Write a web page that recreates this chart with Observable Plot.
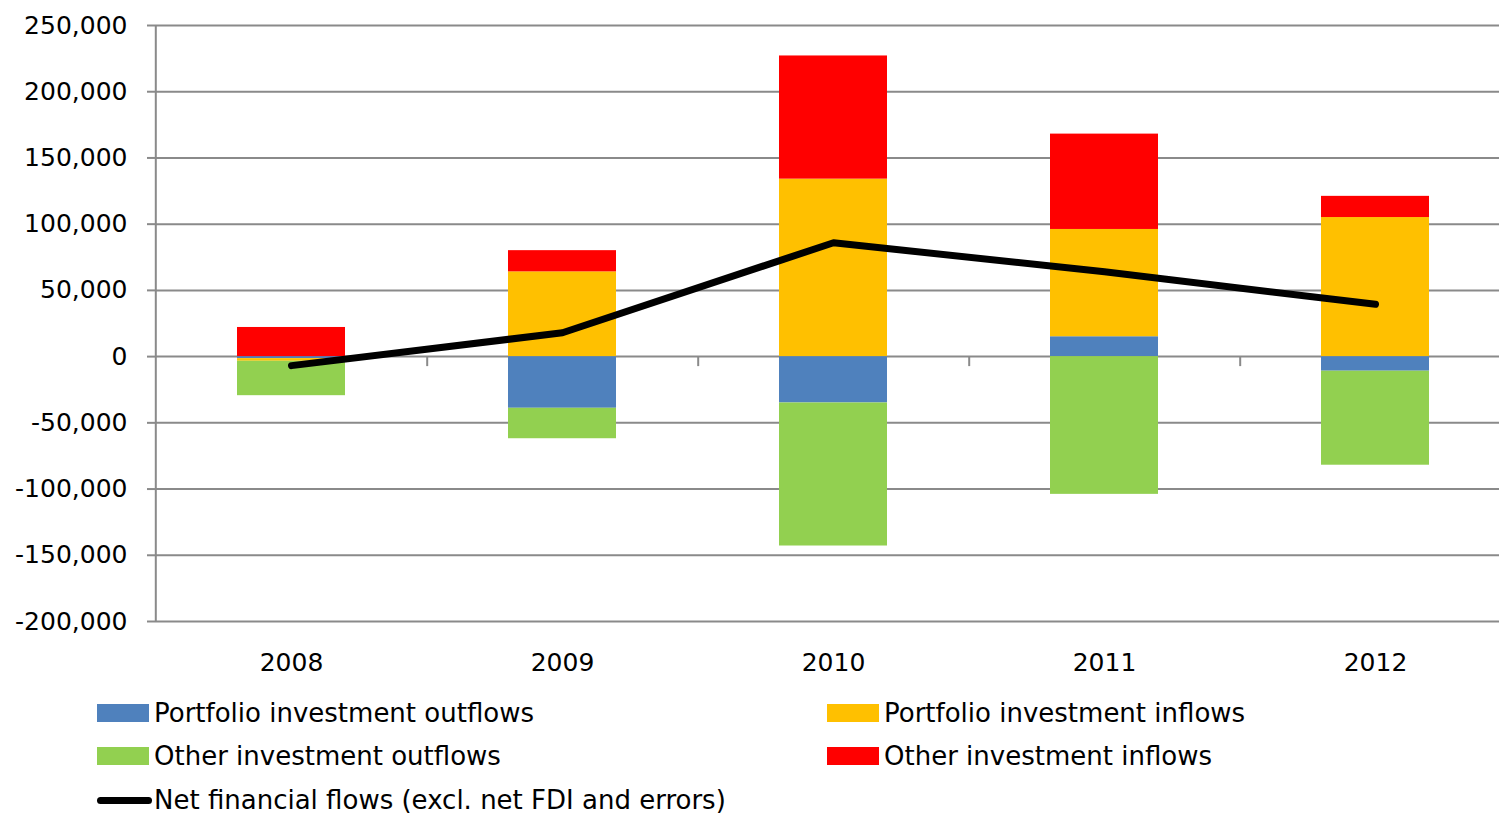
<!DOCTYPE html>
<html>
<head>
<meta charset="utf-8">
<script src="https://cdn.jsdelivr.net/npm/d3@7"></script>
<script src="https://cdn.jsdelivr.net/npm/@observablehq/plot@0.6"></script>
<style>
  html, body { margin: 0; padding: 0; background: #fff; overflow: hidden; width: 1499px; height: 814px; }
  body { font-family: "DejaVu Sans", sans-serif; position: relative; }
  #chart { position: absolute; left: 0; top: 0; width: 1512px; }
  #chart svg { max-width: none !important; }
  #legend { position: absolute; left: 0; top: 690px; width: 1499px; height: 124px; }
  .item { position: absolute; display: flex; align-items: center; height: 30px; font-size: 26px; color: #000; white-space: nowrap; }
  .sw { width: 52px; height: 18px; margin-right: 5px; }
  .ln { width: 55px; height: 7px; border-radius: 4px; background: #000; margin-right: 2px; }
</style>
</head>
<body>
<div id="chart"></div>
<div id="legend"></div>
<script>
const years = ["2008", "2009", "2010", "2011", "2012"];
const seriesNames = [
  "Portfolio investment outflows",
  "Portfolio investment inflows",
  "Other investment outflows",
  "Other investment inflows"
];
const seriesColors = ["#4F81BD", "#FFC000", "#92D050", "#FF0000"];
const portfolioOutflows = [-1500, -39000, -35000, 15000, -11000];
const portfolioInflows = [-2000, 64000, 134000, 81000, 105000];
const otherOutflows = [-26000, -23000, -108000, -104000, -71000];
const otherInflows = [22000, 16000, 93000, 72000, 16000];
const netName = "Net financial flows (excl. net FDI and errors)";
const netFlows = [-6800, 18000, 86000, 64000, 39500];
const yTicks = [-200000, -150000, -100000, -50000, 0, 50000, 100000, 150000, 200000, 250000];

const seriesValues = [portfolioOutflows, portfolioInflows, otherOutflows, otherInflows];
const bars = [];
seriesNames.forEach((name, s) => {
  years.forEach((yr, i) => bars.push({year: yr, series: name, value: seriesValues[s][i]}));
});
const net = years.map((yr, i) => ({year: yr, value: netFlows[i]}));

const W = 1512, H = 690, mL = 155, mR = 0, mT = 25, mB = 69;
const step = (W - mL - mR) / years.length;
const grid = "#8a8a8a";
const fmt = d => d.toLocaleString("en-US");

const chart = Plot.plot({
  width: W,
  height: H,
  marginLeft: mL,
  marginRight: mR,
  marginTop: mT,
  marginBottom: mB,
  style: {fontFamily: "'DejaVu Sans', sans-serif", fontSize: "25px", color: "#000", background: "#fff", maxWidth: "none"},
  x: {domain: years, paddingInner: 0.6, paddingOuter: 0.3, label: null},
  y: {domain: [yTicks[0], yTicks[yTicks.length - 1]], label: null},
  color: {domain: seriesNames, range: seriesColors},
  marks: [
    Plot.ruleY(yTicks, {stroke: grid, strokeWidth: 2}),
    Plot.barY(bars, {x: "year", y: "value", fill: "series"}),
    Plot.ruleX(years.slice(0, 1), {x: d => d, dx: -step / 2, stroke: grid, strokeWidth: 2}),
    Plot.ruleX(years.slice(0, -1), {x: d => d, y1: 0, y2: 0, insetBottom: -10, dx: step / 2, stroke: grid, strokeWidth: 2}),
    Plot.line(net, {x: "year", y: "value", stroke: "#000", strokeWidth: 7, strokeLinecap: "round", strokeLinejoin: "round"}),
    Plot.axisY({ticks: yTicks, tickFormat: fmt, tickSize: 8, tickPadding: 20, stroke: grid, strokeWidth: 2, fontSize: 25, label: null}),
    Plot.axisX({tickSize: 0, tickPadding: 32, fontSize: 25, label: null})
  ]
});
chart.style.maxWidth = "none";
document.getElementById("chart").appendChild(chart);

// Legend
const legend = document.getElementById("legend");
const items = [
  {label: seriesNames[0], color: seriesColors[0], left: 97, row: 0},
  {label: seriesNames[1], color: seriesColors[1], left: 827, row: 0},
  {label: seriesNames[2], color: seriesColors[2], left: 97, row: 1},
  {label: seriesNames[3], color: seriesColors[3], left: 827, row: 1},
  {label: netName, color: null, left: 97, row: 2}
];
const rowCenters = [713, 756, 800];
items.forEach(it => {
  const d = document.createElement("div");
  d.className = "item";
  d.style.left = it.left + "px";
  d.style.top = (rowCenters[it.row] - 690 - 15) + "px";
  const sw = document.createElement("span");
  if (it.color) { sw.className = "sw"; sw.style.background = it.color; }
  else { sw.className = "ln"; }
  const t = document.createElement("span");
  t.textContent = it.label;
  d.appendChild(sw);
  d.appendChild(t);
  legend.appendChild(d);
});
</script>
</body>
</html>
